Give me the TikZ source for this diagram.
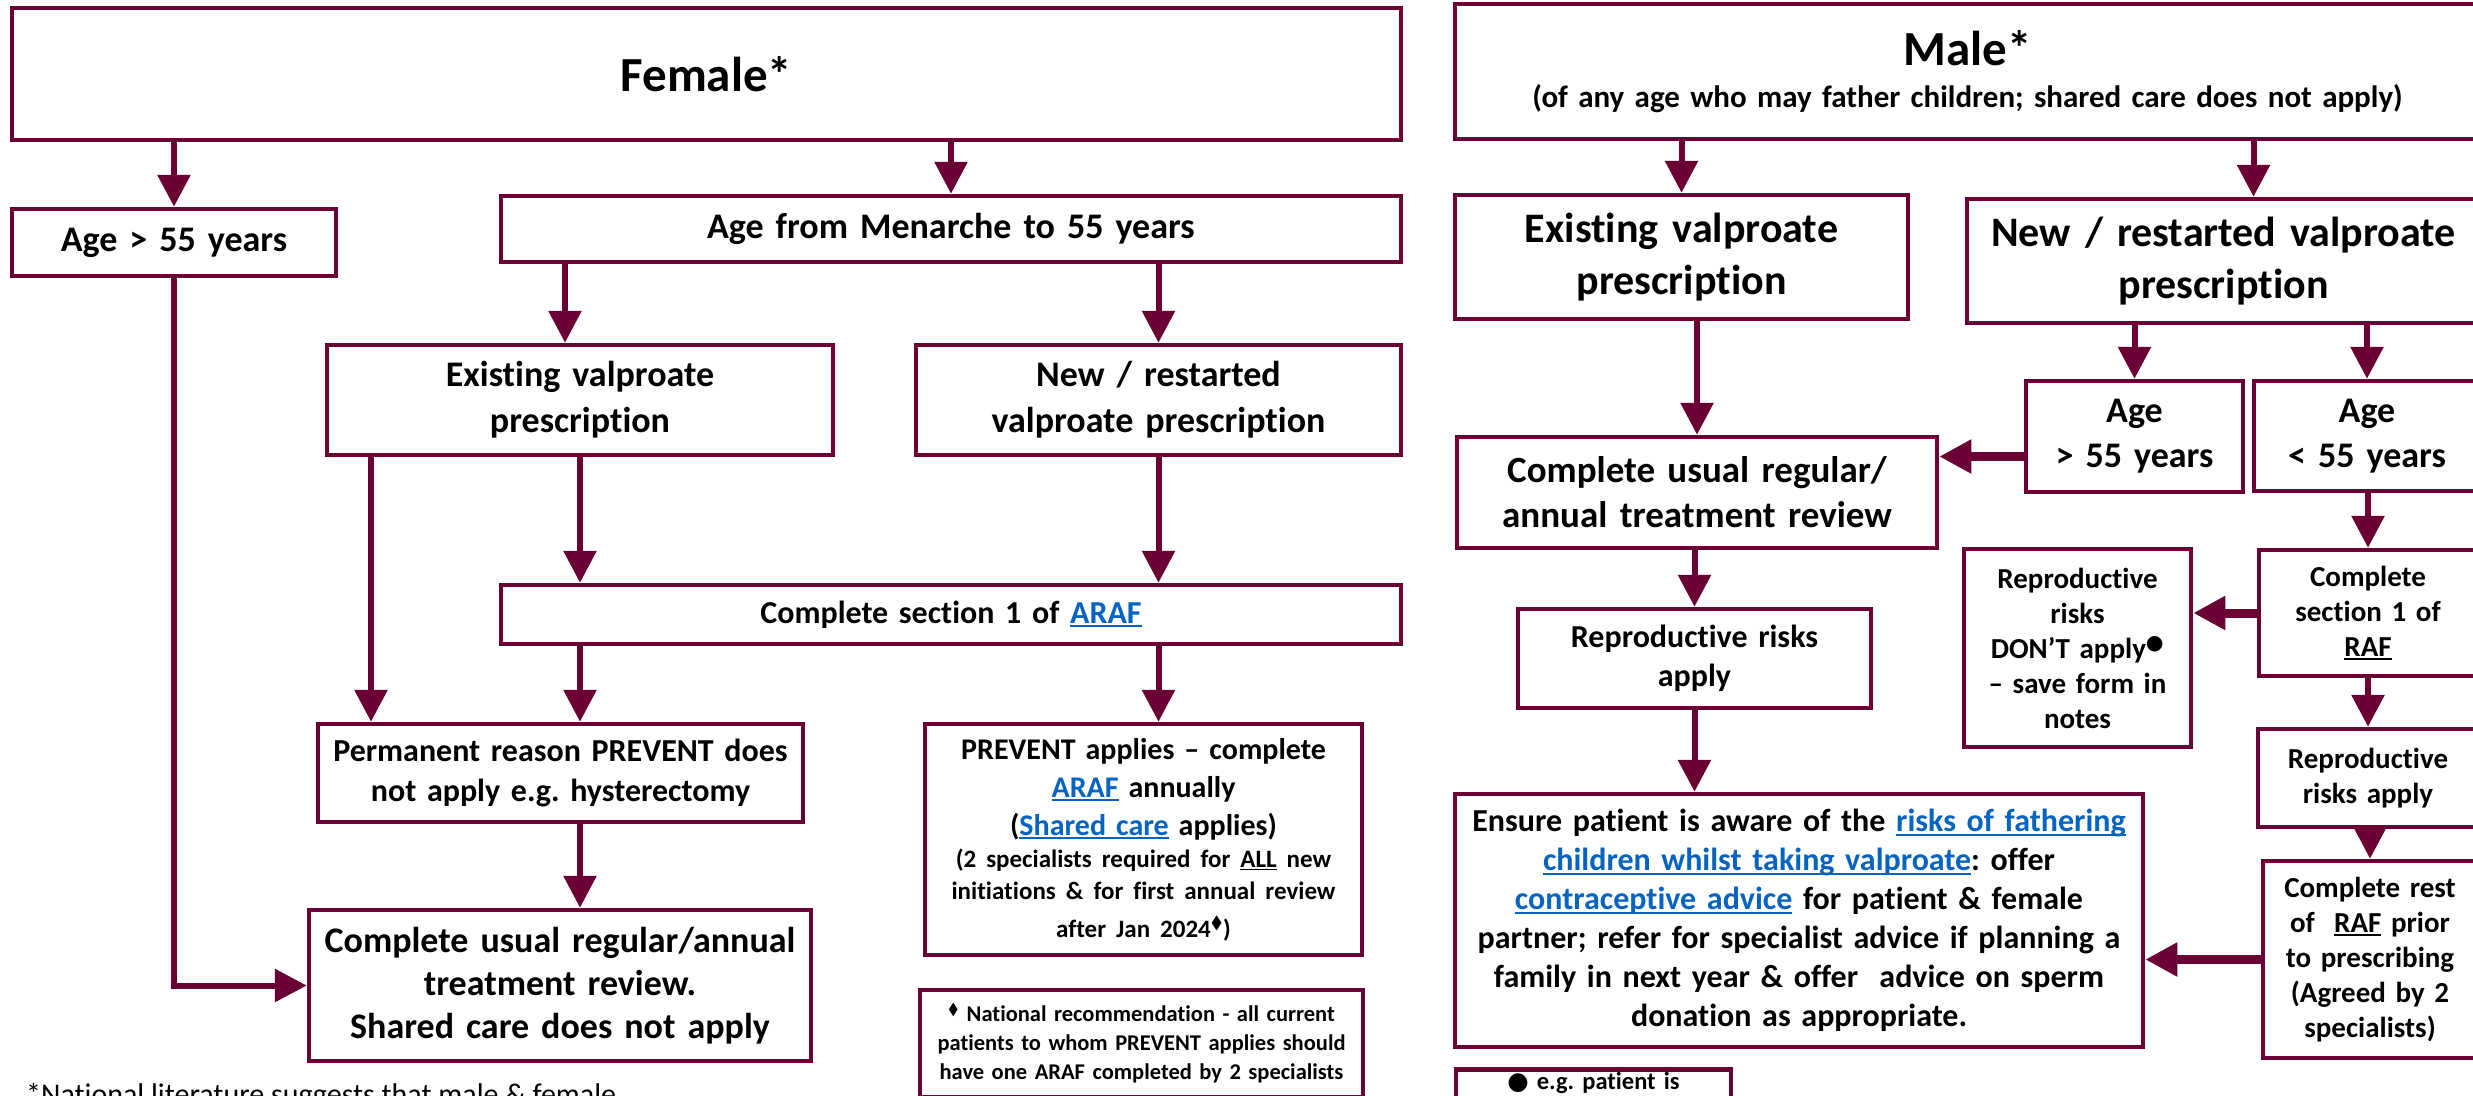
\documentclass[tikz,border=0pt]{standalone}
\usepackage{amssymb}
\usepackage{fontspec}
\setmainfont{Carlito}[RawFeature={-liga;-clig;-calt}]
\newfontfamily\symf{DejaVu Sans}
\usetikzlibrary{arrows.meta}
\definecolor{wine}{RGB}{106,0,52}
\definecolor{linkblue}{RGB}{5,99,193}
\setlength\parindent{0pt}
\frenchspacing
\newcommand\fsz[2]{\fontsize{#1}{#2}\selectfont}
\newcommand\undl[1]{\leavevmode\setbox0\hbox{#1}\rlap{\rule[-0.13em]{\wd0}{0.07em}}\box0\relax}
\newcommand\lnk[1]{\leavevmode{\color{linkblue}\undl{#1}}}
\newcommand\dmd{\textsuperscript{$\blacklozenge$}}

\begin{document}
\begin{tikzpicture}[x=1pt, y=-1pt, >={Triangle[length=32pt,width=32pt]},
  box/.style n args={4}{draw=wine, line width=4.5pt, inner sep=0pt, align=center,
    minimum width=#1, text width=#1, minimum height=#2, font=\bfseries\fsz{#3}{#4}},
  arr/.style={->, draw=wine, line width=6pt},
  fatarr/.style={arr, line width=9pt}]
  \useasboundingbox (0,0) rectangle (2473,1095);
  \fill[white] (0,0) rectangle (2473,1095);
  \clip (0,0) rectangle (2473,1095);

  % female side
  \node[box={1389pt}{132pt}{49}{52}] (fem) at (706.5,74) {Female*};
  \node[box={324pt}{67pt}{36}{44}] (agefifty) at (174,242.5) {Age > 55 years};
  \node[box={900pt}{66pt}{36}{44}] (menarche) at (951,229) {Age from Menarche to 55 years};
  \node[box={506pt}{110pt}{36}{46}] (fexist) at (580,400) {Existing valproate\\prescription};
  \node[box={485pt}{110pt}{36}{46}] (fnew) at (1158.5,400) {New / restarted\\valproate prescription};
  \node[box={900pt}{59pt}{32}{40}] (faraf) at (951,614.5) {Complete section 1 of \lnk{ARAF}};
  \node[box={485pt}{98pt}{32}{40}] (fperm) at (560.5,773) {Permanent reason PREVENT does\\not apply e.g. hysterectomy};
  \node[box={502pt}{151pt}{36}{43}] (fusual) at (560,985.5) {Complete usual regular/annual\\treatment review.\\Shared care does not apply};
  \node[box={437pt}{231pt}{30}{38}] (fprevent) at (1143.5,839.5) {PREVENT applies – complete\\\lnk{ARAF} annually\\(\lnk{Shared care} applies)\par
    \fsz{25}{32}(2 specialists required for \undl{ALL} new\\initiations \& for first annual review\\after Jan 2024\dmd)};
  \node[box={443pt}{107pt}{22.5}{29}] (fnote) at (1141.5,1043.5) {\dmd\ National recommendation - all current\\patients to whom PREVENT applies should\\have one ARAF completed by 2 specialists};
  \node[anchor=base west, inner sep=0pt, font=\fsz{30}{34}] (footnote) at (26,1104) {*National literature suggests that male \& female};

  % male side
  \node[box={1025pt}{135pt}{31}{42}] (male) at (1967.5,71.5) {{\fsz{49}{52}Male*\par}(of any age who may father children; shared care does not apply)};
  \node[box={453pt}{124pt}{42}{52}] (mexist) at (1681.5,257) {Existing valproate\\prescription};
  \node[box={513pt}{124pt}{42}{52}] (mnew) at (2223.5,261) {New / restarted valproate\\prescription};
  \node[box={217pt}{111pt}{36}{45}] (mover) at (2134.5,436.5) {Age\\> 55 years};
  \node[box={226pt}{110pt}{36}{45}] (munder) at (2367,436) {Age\\< 55 years};
  \node[box={480pt}{111pt}{37}{45}] (musual) at (1697,492.5) {Complete usual regular/\\annual treatment review};
  \node[box={353pt}{99pt}{32}{39}] (mrepro) at (1694.5,658.5) {Reproductive risks\\apply};
  \node[box={227pt}{198pt}{29}{35}] (mdont) at (2077.5,648) {Reproductive\\risks\\DON’T apply\textsuperscript{\symf ●}\\– save form in\\notes};
  \node[box={218pt}{126pt}{29}{35}] (msec) at (2368,613) {Complete\\section 1 of\\\undl{RAF}};
  \node[box={220pt}{98pt}{29}{35}] (mrisk) at (2368,778) {Reproductive\\risks apply};
  \node[box={214pt}{197pt}{29}{35}] (mrest) at (2370,959.5) {Complete rest\\of\ \ \undl{RAF} prior\\to prescribing\\(Agreed by 2\\specialists)};
  \node[box={688pt}{253pt}{32}{39}] (mensure) at (1799,920.5) {Ensure patient is aware of the \lnk{risks of fathering}\\\lnk{children whilst taking valproate}: offer\\\lnk{contraceptive advice} for patient \& female\\partner; refer for specialist advice if planning a\\family in next year \& offer\ \ advice on sperm\\donation as appropriate.};
  \node[box={275pt}{0pt}{24.5}{30}, anchor=north, inner ysep=3pt, text depth=40pt] (mnote) at (1593.5,1067) {{\symf ●}\ e.g. patient is};

  % female arrows
  \draw[arr] (fem.south -| agefifty.north) -- (agefifty.north);
  \draw[arr] (fem.south -| menarche.north) -- (menarche.north);
  \draw[arr] (agefifty.south) |- (fusual.west);
  \draw[arr] ([xshift=-15pt]menarche.south -| fexist.north) -- ([xshift=-15pt]fexist.north);
  \draw[arr] (menarche.south -| fnew.north) -- (fnew.north);
  \draw[arr] ([xshift=-209pt]fexist.south) -- ([xshift=-209pt]fexist.south |- fperm.north);
  \draw[arr] (fexist.south) -- (fexist.south |- faraf.north);
  \draw[arr] (fnew.south) -- (fnew.south |- faraf.north);
  \draw[arr] (faraf.south -| fexist.south) -- (fperm.north -| fexist.south);
  \draw[arr] (faraf.south -| fnew.south) -- (fprevent.north -| fnew.south);
  \draw[arr] (fperm.south -| fexist.south) -- (fusual.north -| fexist.south);

  % male arrows
  \draw[arr] (male.south -| mexist.north) -- (mexist.north);
  \draw[arr] ([xshift=30pt]male.south -| mnew.north) -- ([xshift=30pt]mnew.north);
  \draw[arr] (mnew.south -| mover.north) -- (mover.north);
  \draw[arr] (mnew.south -| munder.north) -- (munder.north);
  \draw[arr] (mexist.south -| musual.north) -- (musual.north);
  \draw[fatarr] ([yshift=-20pt]mover.west) -- ([yshift=-20pt]mover.west -| musual.east);
  \draw[arr] (musual.south -| mrepro.north) -- (mrepro.north);
  \draw[arr] (mrepro.south) -- (mrepro.south |- mensure.north);
  \draw[arr] (munder.south -| msec.north) -- (msec.north);
  \draw[fatarr] (msec.west) -- (msec.west -| mdont.east);
  \draw[arr] (msec.south -| mrisk.north) -- (mrisk.north);
  \draw[arr] (mrisk.south -| mrest.north) -- (mrest.north);
  \draw[fatarr] (mrest.west) -- (mrest.west -| mensure.east);
\end{tikzpicture}
\end{document}
